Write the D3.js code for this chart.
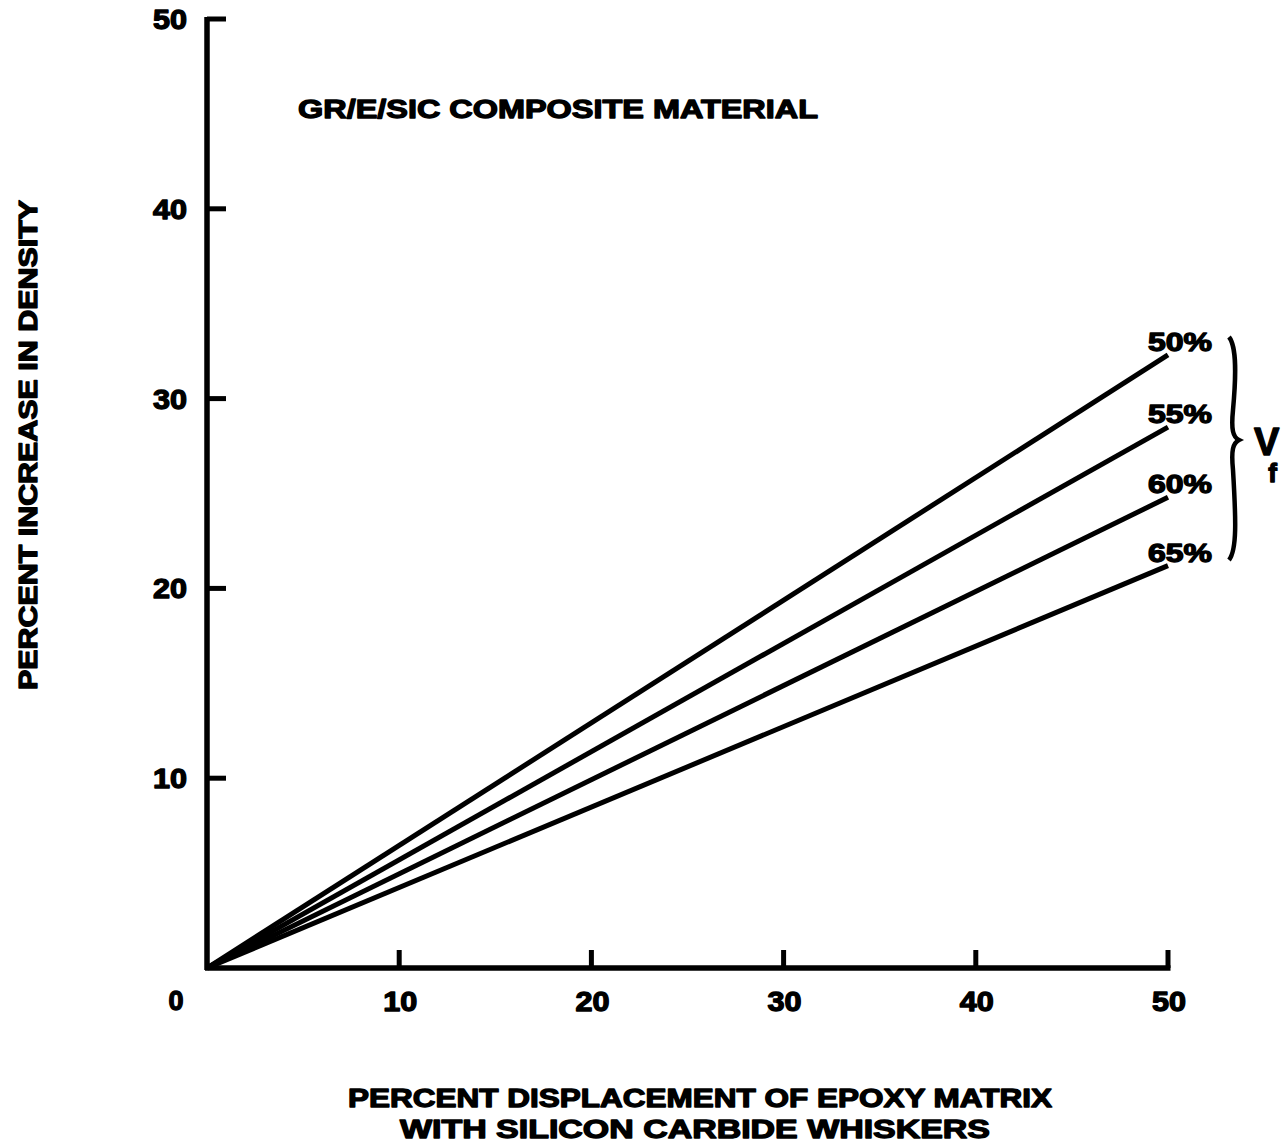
<!DOCTYPE html>
<html>
<head>
<meta charset="utf-8">
<script src="https://cdn.jsdelivr.net/npm/d3@7/dist/d3.min.js"></script>
<style>
  body { margin: 0; background: #fff; }
  text { font-family: "Liberation Sans", Arial, sans-serif; font-weight: bold; fill: #000;
         stroke: #000; stroke-width: 1.3px; stroke-linejoin: round; }
</style>
</head>
<body>
<div id="chart"></div>
<script>
const widthValue = 1287;
const heightValue = 1146;

// data
const xDomain = [0, 50];
const yDomain = [0, 50];
const xTicks = [10, 20, 30, 40, 50];
const yTicks = [10, 20, 30, 40, 50];
const fiberFractions = ["50%", "55%", "60%", "65%"];
const xValues = [0, 50];
const densityAt50 = [32.3, 28.5, 24.8, 21.2];

const svg = d3.select("#chart")
  .append("svg")
  .attr("width", widthValue)
  .attr("height", heightValue);

// scales
const x = d3.scaleLinear().domain(xDomain).range([207, 1168]);
const y = d3.scaleLinear().domain(yDomain).range([968, 19]);

// axes lines
svg.append("line")
  .attr("x1", x(0)).attr("x2", x(0))
  .attr("y1", y(50) - 2).attr("y2", y(0) + 2)
  .attr("stroke", "#000").attr("stroke-width", 5.5);
svg.append("line")
  .attr("x1", x(0) - 2).attr("x2", x(50) + 2.5)
  .attr("y1", y(0)).attr("y2", y(0))
  .attr("stroke", "#000").attr("stroke-width", 5.5);

// y ticks point right (inside)
svg.selectAll(".ytick")
  .data(yTicks)
  .enter().append("line")
  .attr("x1", x(0)).attr("x2", x(0) + 19)
  .attr("y1", d => y(d)).attr("y2", d => y(d))
  .attr("stroke", "#000").attr("stroke-width", 5);

// x ticks point up (inside)
svg.selectAll(".xtick")
  .data(xTicks)
  .enter().append("line")
  .attr("x1", d => x(d)).attr("x2", d => x(d))
  .attr("y1", y(0)).attr("y2", y(0) - 18)
  .attr("stroke", "#000").attr("stroke-width", 5);

// tick labels
svg.selectAll(".ylab")
  .data(yTicks)
  .enter().append("text")
  .attr("x", x(0) - 20)
  .attr("y", d => y(d) + 10)
  .attr("text-anchor", "end")
  .style("font-size", "27px")
  .attr("textLength", 34)
  .attr("lengthAdjust", "spacingAndGlyphs")
  .text(d => d);

svg.append("text")
  .attr("x", 176).attr("y", 1010)
  .attr("text-anchor", "middle")
  .style("font-size", "27px")
  .text("0");

svg.selectAll(".xlab")
  .data(xTicks)
  .enter().append("text")
  .attr("x", d => x(d) + 1)
  .attr("y", 1011)
  .attr("text-anchor", "middle")
  .style("font-size", "27px")
  .attr("textLength", 34)
  .attr("lengthAdjust", "spacingAndGlyphs")
  .text(d => d);

// series lines
const line = d3.line().x(d => x(d[0])).y(d => y(d[1]));
fiberFractions.forEach(function(f, i) {
  const pts = xValues.map(v => [v, densityAt50[i] * v / 50]);
  svg.append("path")
    .datum(pts)
    .attr("d", line)
    .attr("fill", "none")
    .attr("stroke", "#000")
    .attr("stroke-width", 5);
});

// series labels
svg.selectAll(".slab")
  .data(fiberFractions)
  .enter().append("text")
  .attr("x", 1180)
  .attr("y", (d, i) => y(densityAt50[i]) - 4)
  .attr("text-anchor", "middle")
  .style("font-size", "25px")
  .attr("textLength", 64)
  .attr("lengthAdjust", "spacingAndGlyphs")
  .text(d => d);

// brace
const bTop = 337, bBot = 560, bMid = 440, bx = 1229;
svg.append("path")
  .attr("d", `M${bx},${bTop} C${bx + 8},${bTop + 10} ${bx + 7},${bTop + 40} ${bx + 4},${bMid - 30}
              C${bx + 2},${bMid - 10} ${bx + 4},${bMid - 3} ${bx + 10},${bMid}
              C${bx + 4},${bMid + 3} ${bx + 2},${bMid + 10} ${bx + 4},${bMid + 30}
              C${bx + 7},${bBot - 40} ${bx + 8},${bBot - 10} ${bx},${bBot}`)
  .attr("fill", "none")
  .attr("stroke", "#000")
  .attr("stroke-width", 4.5);

// V with subscript f
const vf = svg.append("text")
  .attr("x", 1254).attr("y", 455)
  .style("font-size", "38px");
vf.append("tspan").text("V");
vf.append("tspan")
  .attr("dx", -11).attr("dy", 27)
  .style("font-size", "26px")
  .text("f");

// title
svg.append("text")
  .attr("x", 298).attr("y", 118)
  .style("font-size", "26px")
  .attr("textLength", 520)
  .attr("lengthAdjust", "spacingAndGlyphs")
  .text("GR/E/SIC COMPOSITE MATERIAL");

// y axis label
svg.append("text")
  .attr("transform", "translate(37,445) rotate(-90)")
  .attr("text-anchor", "middle")
  .style("font-size", "26px")
  .attr("textLength", 490)
  .attr("lengthAdjust", "spacingAndGlyphs")
  .text("PERCENT INCREASE IN DENSITY");

// x axis label
svg.append("text")
  .attr("x", 348).attr("y", 1107)
  .style("font-size", "26px")
  .attr("textLength", 704)
  .attr("lengthAdjust", "spacingAndGlyphs")
  .text("PERCENT DISPLACEMENT OF EPOXY MATRIX");
svg.append("text")
  .attr("x", 400).attr("y", 1138)
  .style("font-size", "26px")
  .attr("textLength", 590)
  .attr("lengthAdjust", "spacingAndGlyphs")
  .text("WITH SILICON CARBIDE WHISKERS");
</script>
</body>
</html>
